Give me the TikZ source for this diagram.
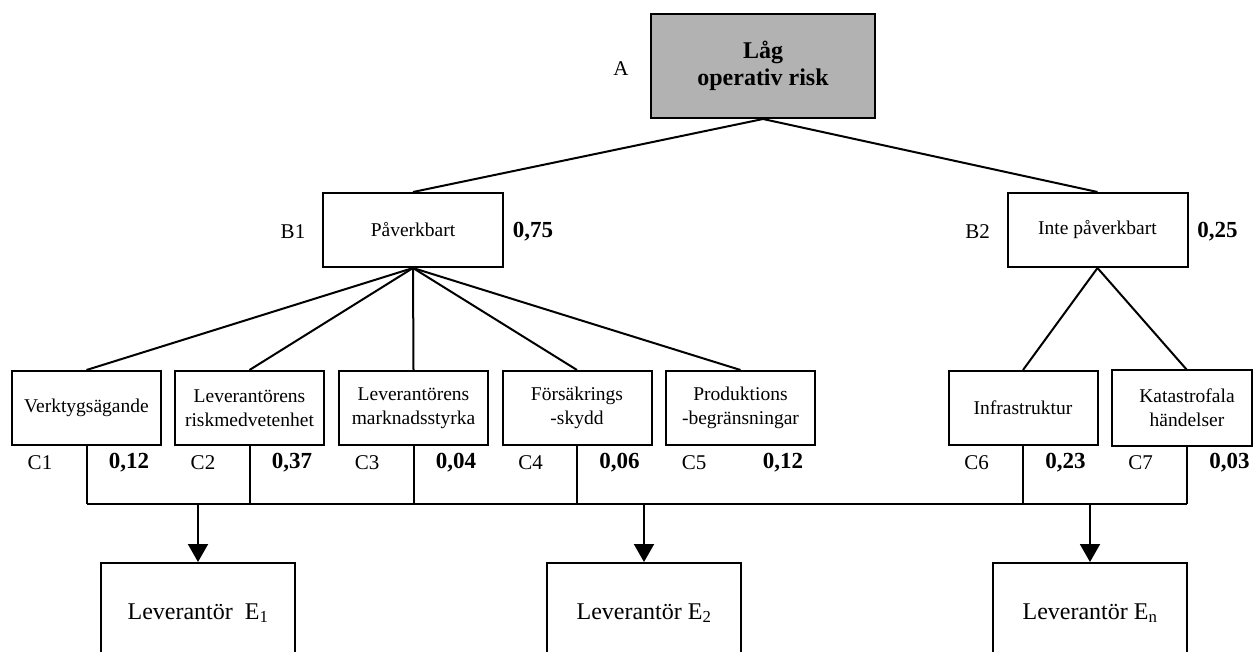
\documentclass[tikz,border=0pt]{standalone}
\usepackage{fontspec}
\setmainfont{Liberation Serif}
\usetikzlibrary{arrows.meta,calc}

\begin{document}
\begin{tikzpicture}[x=1pt,y=-1pt,line width=2pt,
  box/.style={draw,inner sep=0pt,align=center},
  topbox/.style={box,fill=black!30,minimum width=224pt,minimum height=104pt,
    font=\fontsize{24}{27}\selectfont\bfseries},
  midbox/.style={box,minimum width=180pt,minimum height=74pt,
    font=\fontsize{19.5}{24}\selectfont},
  cbox/.style={box,minimum width=149pt,minimum height=74pt,text width=145pt,
    font=\fontsize{19.5}{24}\selectfont},
  ebox/.style={box,minimum width=194pt,minimum height=100pt,
    font=\fontsize{24}{28}\selectfont},
  tag/.style={inner sep=0pt,font=\fontsize{21}{24}\selectfont},
  weight/.style={inner sep=0pt,font=\fontsize{23}{26}\selectfont\bfseries},
  flow/.style={-{Triangle[length=18pt,width=20pt]}}
]
\useasboundingbox (0,0) rectangle (1253,651);
\clip (0,0) rectangle (1253,651);

% goal
\node[topbox] (A) at (763,66) {Låg\\operativ risk};
\node[tag] (Atag) at (621,69) {A};

% criteria level B
\node[midbox] (B1) at (413,230) {Påverkbart};
\node[midbox] (B2) at (1097.5,230) {Inte påverkbart};
\node[tag] (B1tag) at ($(B1.west)+(-29,2)$) {B1};
\node[tag] (B2tag) at ($(B2.west)+(-29,2)$) {B2};
\node[weight] (B1w) at ($(B1.east)+(29,2)$) {0,75};
\node[weight] (B2w) at ($(B2.east)+(29,2)$) {0,25};

% sub-criteria level C
\node[cbox] (C1) at (86.5,408) {Verktygsägande};
\node[cbox] (C2) at (249.5,408) {Leverantörens\\riskmedvetenhet};
\node[cbox] (C3) at (413.5,408) {Leverantörens\\marknadsstyrka};
\node[cbox] (C4) at (577,408) {Försäkrings\\-skydd};
\node[cbox] (C5) at (740.5,408) {Produktions\\-begränsningar};
\node[cbox] (C6) at (1023,408) {Infrastruktur};
\node[cbox,draw=none] (C7) at (1187,408) {Katastrofala\\händelser};
\draw (C7.north west) rectangle ([xshift=-11pt]C7.south east);

\foreach \c in {1,...,7}{
  \node[tag] (C\c tag) at ($(C\c.south west)+(29,17)$) {C\c};
}
\node[weight] (C1w) at ($(C1.south west)+(118,17)$) {0,12};
\node[weight] (C2w) at ($(C2.south west)+(118,17)$) {0,37};
\node[weight] (C3w) at ($(C3.south west)+(118,17)$) {0,04};
\node[weight] (C4w) at ($(C4.south west)+(118,17)$) {0,06};
\node[weight] (C5w) at ($(C5.south west)+(118,17)$) {0,12};
\node[weight] (C6w) at ($(C6.south west)+(118,17)$) {0,23};
\node[weight] (C7w) at ($(C7.south west)+(118,17)$) {0,03};

% suppliers
\node[ebox] (E1) at (198,613) {Leverantör\ \ E\textsubscript{1}};
\node[ebox] (E2) at (644,613) {Leverantör E\textsubscript{2}};
\node[ebox] (En) at (1090,613) {Leverantör E\textsubscript{n}};

% tree connectors
\draw (A.south) -- (B1.north);
\draw (A.south) -- (B2.north);
\foreach \c in {C1,C2,C3,C4,C5}{ \draw (B1.south) -- (\c.north); }
\draw (B2.south) -- (C6.north);
\draw (B2.south) -- (C7.north);

% collecting bus
\coordinate (bus) at (0,504);
\foreach \c in {C1,C2,C3,C4,C6,C7}{ \draw (\c.south) -- (\c.south |- bus); }
\draw (C1.south |- bus) -- (C7.south |- bus);
\foreach \e in {E1,E2,En}{ \draw[flow] (\e.north |- bus) -- (\e.north); }
\end{tikzpicture}
\end{document}
